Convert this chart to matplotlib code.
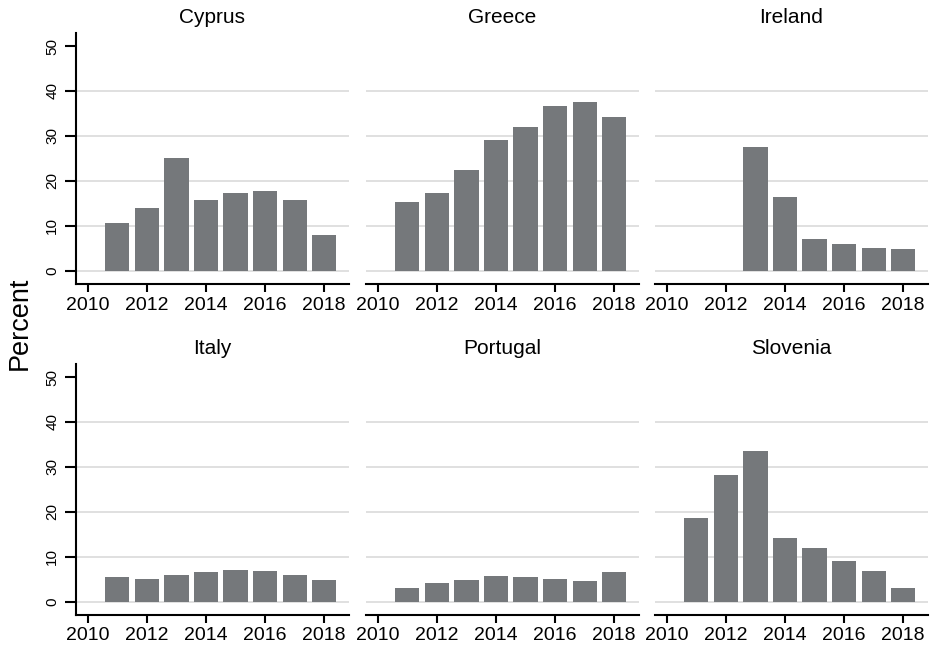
import numpy as np
import matplotlib
matplotlib.use("Agg")
import matplotlib.pyplot as plt

plt.rcParams["font.family"] = ["Liberation Sans", "DejaVu Sans"]

YEARS = [2011, 2012, 2013, 2014, 2015, 2016, 2017, 2018]
COUNTRIES = ["Cyprus", "Greece", "Ireland", "Italy", "Portugal", "Slovenia"]

cyprus = [10.6, 13.9, 25.0, 15.8, 17.2, 17.8, 15.8, 7.9]
greece = [15.2, 17.2, 22.5, 29.0, 32.0, 36.7, 37.5, 34.2]
ireland = [0, 0, 27.5, 16.3, 7.1, 6.0, 5.1, 4.9]
italy = [5.4, 5.1, 6.0, 6.5, 7.1, 6.7, 6.0, 4.7]
portugal = [3.1, 4.2, 4.9, 5.6, 5.4, 5.1, 4.5, 6.5]
slovenia = [18.7, 28.1, 33.5, 14.1, 12.0, 9.1, 6.9, 3.1]

VALUES = [cyprus, greece, ireland, italy, portugal, slovenia]
BAR = "#75787b"

W, H = 932, 646
fig = plt.figure(figsize=(W / 100, H / 100), dpi=100)

# panel geometry in pixels (left edges, top edges, size)
lefts = [76, 366, 655]
tops = [33, 364]
pw, ph = 273, 251

for k, (name, vals) in enumerate(zip(COUNTRIES, VALUES)):
    r, c = divmod(k, 3)
    ax = fig.add_axes([lefts[c] / W, (H - tops[r] - ph) / H, pw / W, ph / H])
    for g in [0, 10, 20, 30, 40]:
        ax.axhline(g, color="#dddddd", lw=1.3, zorder=0)
    x = [y for y, v in zip(YEARS, vals) if v > 0]
    v = [v for v in vals if v > 0]
    ax.bar(x, v, width=0.82, color=BAR, zorder=2)
    ax.set_xlim(2009.6, 2018.84)
    ax.set_ylim(-3.0, 52.9)
    ax.set_xticks([2010, 2012, 2014, 2016, 2018])
    ax.set_yticks([0, 10, 20, 30, 40, 50])
    ax.spines["top"].set_visible(False)
    ax.spines["right"].set_visible(False)
    ax.spines["bottom"].set_linewidth(1.5)
    ax.spines["left"].set_linewidth(1.5)
    ax.tick_params(axis="x", length=6, width=1.5, labelsize=14, pad=3)
    ax.tick_params(axis="y", length=8, width=1.5, labelsize=11, pad=4,
                   labelrotation=90)
    for lab in ax.get_yticklabels():
        lab.set_va("center")
    if c > 0:
        ax.spines["left"].set_visible(False)
        ax.tick_params(axis="y", left=False, labelleft=False)
    ax.set_title(name, fontsize=15, pad=7)

fig.text(20 / W, 1 - 323 / H, "Percent", rotation=90, fontsize=19.5,
         ha="center", va="center")

fig.savefig("out.png", dpi=100)
